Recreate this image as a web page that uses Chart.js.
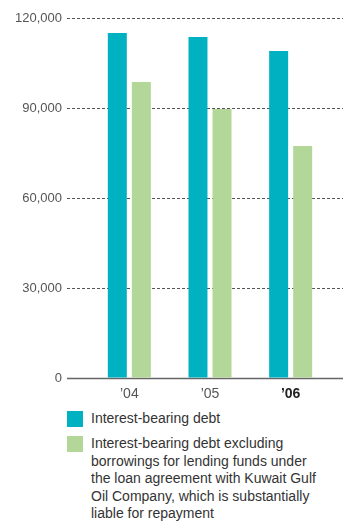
<!DOCTYPE html>
<html>
<head>
<meta charset="utf-8">
<script src="https://cdn.jsdelivr.net/npm/chart.js@4"></script>
<style>
  body { margin: 0; background: #fff; font-family: "Liberation Sans", Arial, sans-serif; }
  #wrap { position: relative; width: 343px; height: 525px; }
  #chart { position: absolute; left: 0; top: 0; }
  .legend { position: absolute; left: 67px; font-size: 14px; line-height: 17.5px; color: #333; }
  .legend .sw { position: absolute; left: 0; top: 1px; width: 16px; height: 16px; }
  .legend .tx { position: absolute; left: 24px; top: 0; width: 260px; white-space: nowrap; }
</style>
</head>
<body>
<div id="wrap">
  <canvas id="chart" width="343" height="402"></canvas>
  <div class="legend" id="leg1" style="top:410px"><div class="sw"></div><div class="tx"></div></div>
  <div class="legend" id="leg2" style="top:435px"><div class="sw"></div><div class="tx"></div></div>
</div>
<script>
// fiscal years
var years = ["\u201904", "\u201905", "\u201906"];
// values (millions of yen)
var debt = [115000, 113700, 109000];
var debtExcl = [98700, 89700, 77300];
var yTicks = [0, 30000, 60000, 90000, 120000];

var tealColor = '#00b2c1';
var greenColor = '#b3d699';

var labelDebt = "Interest-bearing debt";
var labelExcl = "Interest-bearing debt excluding<br>borrowings for lending funds under<br>the loan agreement with Kuwait Gulf<br>Oil Company, which is substantially<br>liable for repayment";

document.querySelector('#leg1 .sw').style.background = tealColor;
document.querySelector('#leg1 .tx').innerHTML = labelDebt;
document.querySelector('#leg2 .sw').style.background = greenColor;
document.querySelector('#leg2 .tx').innerHTML = labelExcl;

// dashed gridlines + baseline drawn across the full width
var gridPlugin = {
    id: 'gridLines',
    beforeDatasetsDraw: function (chart) {
        var ctx = chart.ctx;
        var y = chart.scales.y;
        ctx.save();
        yTicks.forEach(function (v) {
            var py = Math.round(y.getPixelForValue(v)) + 0.5;
            ctx.beginPath();
            if (v === 0) {
                ctx.setLineDash([]);
                ctx.strokeStyle = '#666';
                ctx.lineWidth = 1.5;
            } else {
                ctx.setLineDash([3, 2]);
                ctx.strokeStyle = '#555';
                ctx.lineWidth = 1;
            }
            ctx.moveTo(67, py);
            ctx.lineTo(chart.width, py);
            ctx.stroke();
        });
        ctx.restore();
    }
};

var ctx = document.getElementById("chart").getContext('2d');
var chart = new Chart(ctx, {
    type: "bar",
    data: {
        labels: years,
        datasets: [
            {
                label: "Interest-bearing debt",
                data: debt,
                backgroundColor: tealColor,
                borderWidth: 0
            },
            {
                label: "Interest-bearing debt excluding borrowings",
                data: debtExcl,
                backgroundColor: greenColor,
                borderWidth: 0
            }
        ]
    },
    options: {
        responsive: false,
        animation: false,
        categoryPercentage: 0.596,
        barPercentage: 0.79,
        layout: {
            padding: { top: 18, right: 12, left: 0, bottom: 0 }
        },
        plugins: {
            legend: { display: false },
            tooltip: { enabled: false }
        },
        scales: {
            x: {
                grid: { display: false },
                border: { display: false },
                ticks: {
                    padding: 0,
                    color: function (c) { return c.index === 2 ? '#222' : '#555'; },
                    font: function (c) {
                        return {
                            family: "'Liberation Sans', Arial, sans-serif",
                            size: 14,
                            weight: c.index === 2 ? 'bold' : 'normal'
                        };
                    }
                },
                afterFit: function (scale) { scale.height = 24; }
            },
            y: {
                min: 0,
                max: 120000,
                // invisible ticks only used to push the labels left
                grid: {
                    display: true,
                    drawOnChartArea: false,
                    drawTicks: true,
                    tickLength: 25,
                    color: 'rgba(0,0,0,0)'
                },
                border: { display: false },
                afterBuildTicks: function (scale) {
                    scale.ticks = yTicks.map(function (v) { return { value: v }; });
                },
                ticks: {
                    padding: 2,
                    color: '#555',
                    font: { family: "'Liberation Sans', Arial, sans-serif", size: 13 },
                    callback: function (v) { return v.toLocaleString('en-US'); }
                },
                afterFit: function (scale) { scale.width = 89; }
            }
        }
    },
    plugins: [gridPlugin]
});
</script>
</body>
</html>
